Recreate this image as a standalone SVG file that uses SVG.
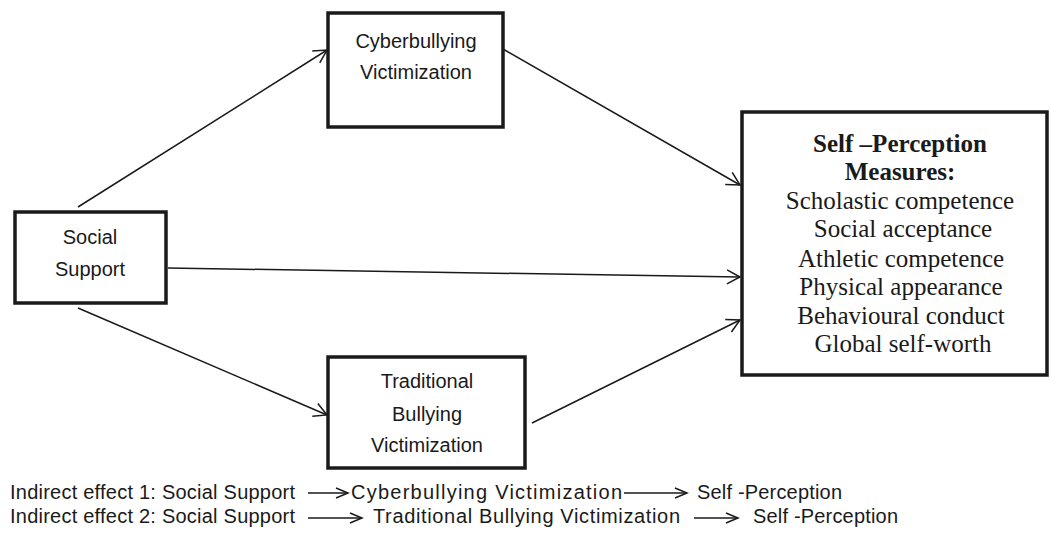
<svg xmlns="http://www.w3.org/2000/svg" width="1050" height="534" viewBox="0 0 1050 534">
<style>
.box{fill:#fff;stroke:#1a1a1a;stroke-width:3.5}
.sans{font-family:"Liberation Sans",Arial,sans-serif;font-size:20px;fill:#1a1a1a}
.serif{font-family:"Liberation Serif","Times New Roman",serif;font-size:25px;fill:#1a1a1a}
.b{font-weight:bold}
.conn{stroke:#1a1a1a;stroke-width:1.5;fill:none;marker-end:url(#arr)}
.leg{stroke:#1a1a1a;stroke-width:1.5;fill:none;marker-end:url(#arr2)}
</style>
<defs>
<marker id="arr" markerUnits="userSpaceOnUse" markerWidth="16" markerHeight="16" refX="13" refY="7" orient="auto" overflow="visible">
<path d="M0,0 L13,7 L0,14" fill="none" stroke="#1a1a1a" stroke-width="1.5"/>
</marker>
<marker id="arr2" markerUnits="userSpaceOnUse" markerWidth="16" markerHeight="16" refX="12" refY="5" orient="auto" overflow="visible">
<path d="M0,0 L12,5 L0,10" fill="none" stroke="#1a1a1a" stroke-width="1.5"/>
</marker>
</defs>
<rect width="1050" height="534" fill="#fff"/>
<g id="connectors">
<line class="conn" x1="78" y1="207" x2="327" y2="50"/>
<line class="conn" x1="503" y1="49" x2="740" y2="185"/>
<line class="conn" x1="168" y1="268" x2="740" y2="277"/>
<line class="conn" x1="78" y1="308" x2="327" y2="415"/>
<line class="conn" x1="532" y1="423" x2="740" y2="320"/>
</g>
<g id="social-support">
<rect class="box" x="15" y="212" width="151" height="91"/>
<text class="sans" text-anchor="middle" x="90" y="244">Social</text>
<text class="sans" text-anchor="middle" x="90" y="276">Support</text>
</g>
<g id="cyberbullying">
<rect class="box" x="328" y="13" width="175" height="114"/>
<text class="sans" text-anchor="middle" x="416" y="48">Cyberbullying</text>
<text class="sans" text-anchor="middle" x="416" y="79">Victimization</text>
</g>
<g id="traditional">
<rect class="box" x="328" y="357" width="197" height="111"/>
<text class="sans" text-anchor="middle" x="427" y="388">Traditional</text>
<text class="sans" text-anchor="middle" x="427" y="421">Bullying</text>
<text class="sans" text-anchor="middle" x="427" y="452">Victimization</text>
</g>
<g id="self-perception">
<rect class="box" x="742" y="112" width="305" height="263"/>
<text class="serif b" text-anchor="middle" x="900" y="152">Self –Perception</text>
<text class="serif b" text-anchor="middle" x="900" y="180">Measures:</text>
<text class="serif" text-anchor="middle" x="900" y="209">Scholastic competence</text>
<text class="serif" text-anchor="middle" x="903" y="237">Social acceptance</text>
<text class="serif" text-anchor="middle" x="901" y="267">Athletic competence</text>
<text class="serif" text-anchor="middle" x="901" y="295">Physical appearance</text>
<text class="serif" text-anchor="middle" x="901" y="324">Behavioural conduct</text>
<text class="serif" text-anchor="middle" x="903" y="352">Global self-worth</text>
</g>
<g id="legend">
<text class="sans" x="10" y="499" textLength="285" lengthAdjust="spacing">Indirect effect 1: Social Support</text>
<line class="leg" x1="308" y1="493" x2="348" y2="493"/>
<text class="sans" x="351" y="499" textLength="271" lengthAdjust="spacing">Cyberbullying Victimization</text>
<line class="leg" x1="624" y1="493" x2="687" y2="493"/>
<text class="sans" x="697" y="499" textLength="145" lengthAdjust="spacing">Self -Perception</text>
<text class="sans" x="10" y="523" textLength="285" lengthAdjust="spacing">Indirect effect 2: Social Support</text>
<line class="leg" x1="308" y1="518" x2="362" y2="518"/>
<text class="sans" x="373" y="523" textLength="307" lengthAdjust="spacing">Traditional Bullying Victimization</text>
<line class="leg" x1="694" y1="518" x2="738" y2="518"/>
<text class="sans" x="753" y="523" textLength="145" lengthAdjust="spacing">Self -Perception</text>
</g>
</svg>
